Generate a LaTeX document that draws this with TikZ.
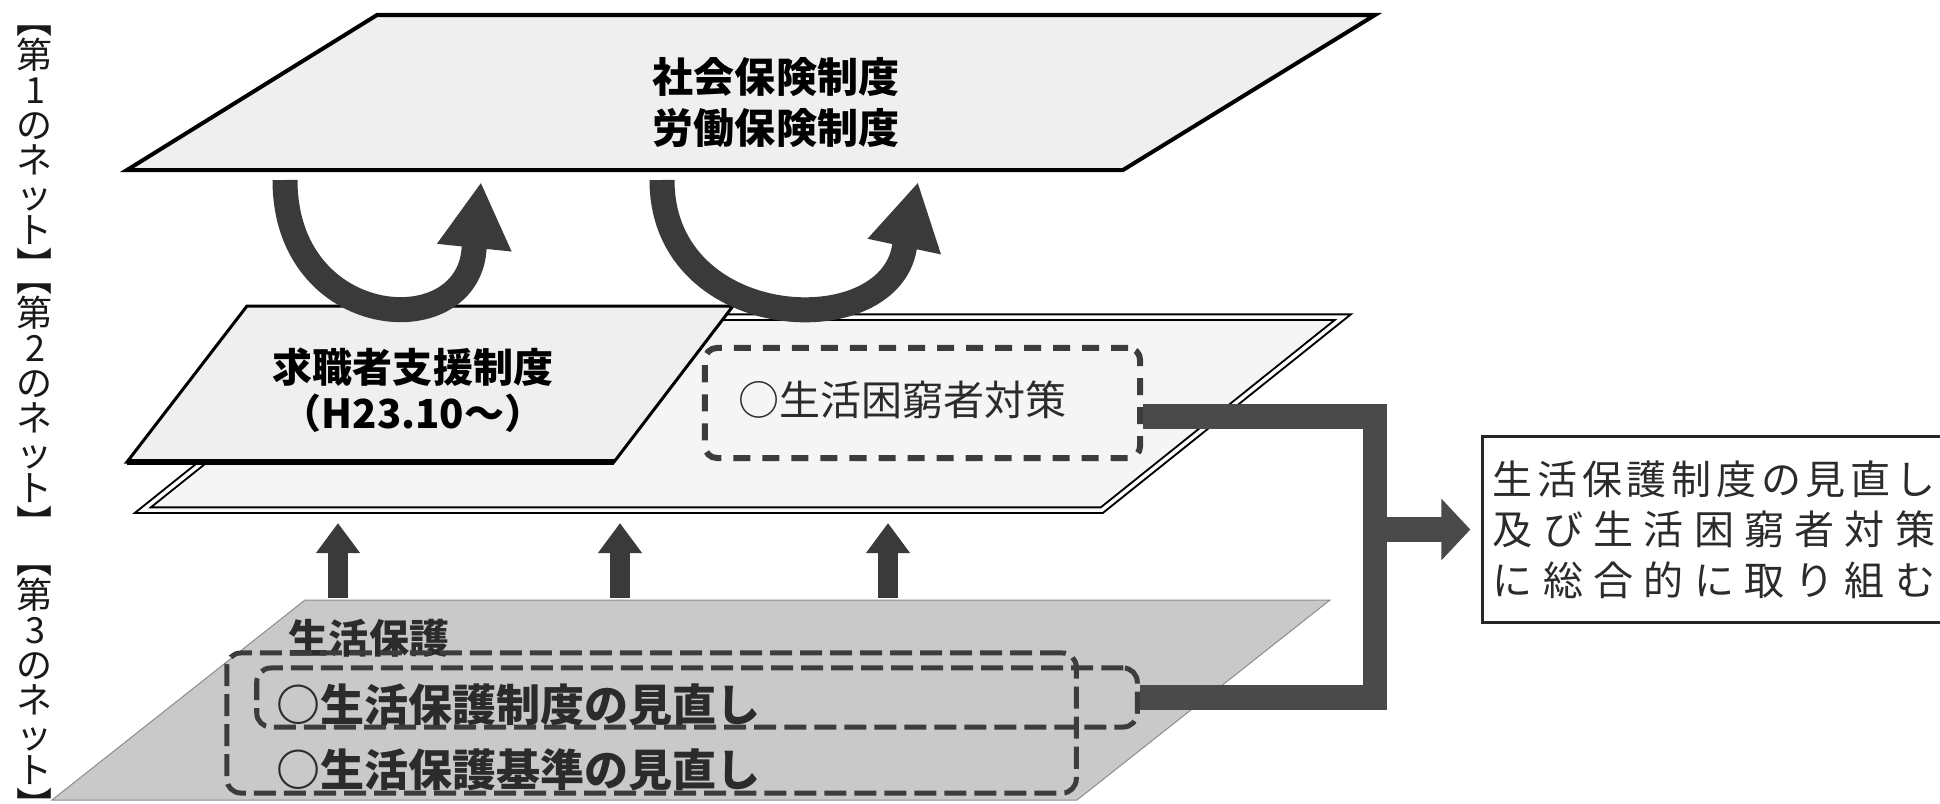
\documentclass[tikz,border=0pt]{standalone}
\usepackage{fontspec}
\usetikzlibrary{arrows.meta}
\newfontfamily\jpfont{Noto Sans CJK JP}
\definecolor{netfill}{HTML}{EFEFEF}
\definecolor{layerfill}{HTML}{F5F5F5}
\definecolor{hogofill}{HTML}{C9C9C9}
\definecolor{arrowgray}{HTML}{3A3A3A}
\definecolor{dashgray}{HTML}{3C3C3C}
\definecolor{conngray}{HTML}{4A4A4A}
\definecolor{textgray}{HTML}{2B2B2B}
\tikzset{
  plane/.style={draw=black, line width=0.04cm, fill=netfill, line join=miter},
  dashbox/.style={draw=dashgray, line width=0.06cm, rounded corners=0.12cm,
    dash pattern=on 0.17cm off 0.12cm, inner sep=0pt},
  hogobox/.style={draw=dashgray, line width=0.05cm, rounded corners=0.14cm,
    dash pattern=on 0.22cm off 0.08cm, inner sep=0pt},
  uturn/.style={draw=arrowgray, line width=0.25cm,
    -{Triangle[length=0.66cm, width=0.70cm]}},
  uparrow/.style={draw=arrowgray, line width=0.20cm,
    -{Triangle[length=0.30cm, width=0.42cm]}},
  conn/.style={draw=conngray, line width=0.245cm, line join=miter},
  boldlabel/.style={font=\jpfont\bfseries\fontsize{0.41cm}{0.51cm}\selectfont,
    text=black, inner sep=0pt, align=center},
  normlabel/.style={font=\jpfont\fontsize{0.41cm}{0.51cm}\selectfont,
    text=textgray, inner sep=0pt},
  netlabel/.style={font=\jpfont\fontsize{0.36cm}{0.35cm}\selectfont,
    text=black!90, inner sep=0pt, align=center},
  resultbox/.style={draw=black!85, line width=0.03cm, fill=white, inner sep=0pt,
    align=center, text=textgray,
    font=\jpfont\fontsize{0.40cm}{0.505cm}\selectfont}
}
\begin{document}
\begin{tikzpicture}[x=0.01cm, y=-0.01cm]
   \useasboundingbox (0,0) rectangle (1940,803);
   %
   % second net (back plane)
   \coordinate (sA) at (143,510);
   \coordinate (sB) at (1102,510);
   \coordinate (sC) at (1343,317);
   \coordinate (sD) at (384,317);
   \draw[line width=0.02cm, double=white, double distance=0.035cm, fill=layerfill]
        (sA) -- (sB) -- (sC) -- (sD) -- cycle;
   %
   \coordinate (kA) at (127,462);
   \coordinate (kB) at (614,462);
   \coordinate (kC) at (733,306);
   \coordinate (kD) at (247,306);
   \draw[plane, line width=0.03cm] (kA) -- (kB) -- (kC) -- (kD) -- cycle;
   \draw[line width=0.06cm] (kA) -- (kB);
   %
   % first net
   \coordinate (tA) at (127,170);
   \coordinate (tB) at (1123,170);
   \coordinate (tC) at (1375,15);
   \coordinate (tD) at (377,15);
   \draw[plane] (tA) -- (tB) -- (tC) -- (tD) -- cycle;
   %
   % third net
   \coordinate (hA) at (52,800);
   \coordinate (hB) at (1077,800);
   \coordinate (hC) at (1330,600);
   \coordinate (hD) at (305,600);
   \draw[draw=black!45, line width=0.01cm, fill=hogofill]
        (hA) -- (hB) -- (hC) -- (hD) -- cycle;
   %
   \node[boldlabel] (kihon) at (776,103) {社会保険制度\\労働保険制度};
   \node[boldlabel, font=\jpfont\bfseries\fontsize{0.40cm}{0.46cm}\selectfont]
        (kyushoku) at (413,390) {求職者支援制度\\（H23.10〜）};
   %
   \node[dashbox, minimum width=4.35cm, minimum height=1.10cm] (konkyu) at (922.5,403) {};
   \node[normlabel, anchor=west] (konkyutxt) at (738,400) {○生活困窮者対策};
   %
   \node[boldlabel, text=textgray, font=\jpfont\bfseries\fontsize{0.40cm}{0.5cm}\selectfont]
        (hogo) at (369,638) {生活保護};
   \node[hogobox, minimum width=8.49cm, minimum height=1.40cm] (hogobx) at (651.5,723) {};
   \node[hogobox, minimum width=8.80cm, minimum height=0.59cm] (seido) at (697,697.5) {};
   \node[boldlabel, text=textgray, anchor=west,
         font=\jpfont\bfseries\fontsize{0.44cm}{0.5cm}\selectfont]
        (seidotxt) at (276,705) {○生活保護制度の見直し};
   \node[boldlabel, text=textgray, anchor=west,
         font=\jpfont\bfseries\fontsize{0.44cm}{0.5cm}\selectfont]
        (kijuntxt) at (276,770) {○生活保護基準の見直し};
   %
   % net labels on the left
   \node[netlabel] (net1) at (35,152) {︻\\第\\1\\の\\ネ\\ッ\\ト\\︼};
   \node[netlabel] (net2) at (35,410) {︻\\第\\2\\の\\ネ\\ッ\\ト\\︼};
   \node[netlabel] (net3) at (35,692) {︻\\第\\3\\の\\ネ\\ッ\\ト\\︼};
   %
   % u-turn arrows
   \coordinate (u1s) at (285,180);
   \coordinate (u1m) at (474,250);
   \coordinate (u1e) at (481,182);
   \coordinate (u2s) at (662,180);
   \coordinate (u2m) at (905,243);
   \coordinate (u2e) at (918,182);
   \draw[uturn] (u1s) .. controls +(0,150) and +(-8,95) .. (u1m) -- (u1e);
   \draw[uturn] (u2s) .. controls +(0,155) and +(-10,102) .. (u2m) -- (u2e);
   %
   \foreach \x [count=\i] in {338,620,888} {
     \coordinate (up\i b) at (\x,598);
     \coordinate (up\i t) at (\x,523);
     \draw[uparrow] (up\i b) -- (up\i t);
   }
   %
   \node[resultbox, minimum width=4.62cm, minimum height=1.85cm] (result) at (1714,529.5)
     {\makebox[4.42cm][s]{生\hfil 活\hfil 保\hfil 護\hfil 制\hfil 度\hfil の\hfil 見\hfil 直\hfil し}\\
      \makebox[4.42cm][s]{及\hfil び\hfil 生\hfil 活\hfil 困\hfil 窮\hfil 者\hfil 対\hfil 策}\\
      \makebox[4.42cm][s]{に\hfil 総\hfil 合\hfil 的\hfil に\hfil 取\hfil り\hfil 組\hfil む}};
   %
   \coordinate (jtop) at (1375,416.5);
   \coordinate (jbot) at (1375,697.5);
   \draw[conn] (konkyu.east |- jtop) -- (jtop) -- (jbot) -- (seido.east |- jbot);
   \draw[conn, -{Triangle[length=0.29cm, width=0.60cm]}]
        (jtop |- result.west) -- ([xshift=-0.11cm]result.west);
   %
\end{tikzpicture}
\end{document}
